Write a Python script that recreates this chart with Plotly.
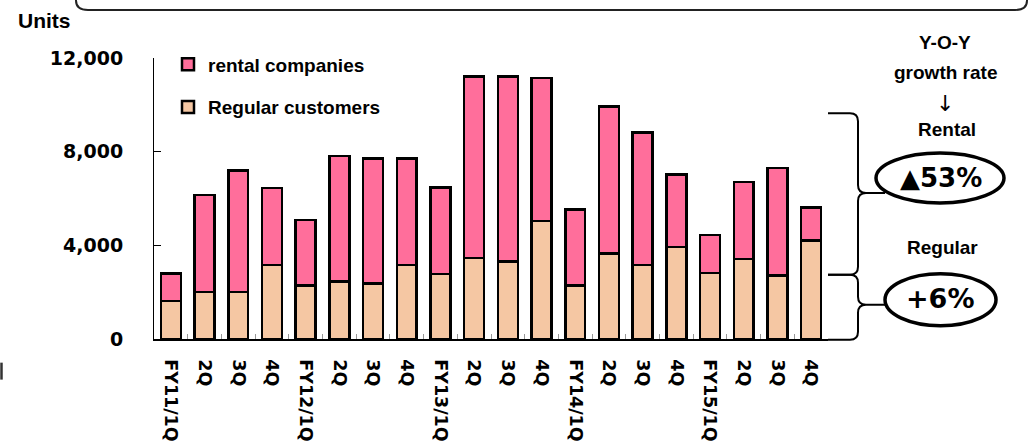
import plotly.graph_objects as go

categories = ["FY11/1Q", "2Q", "3Q", "4Q", "FY12/1Q", "2Q ", "3Q ", "4Q ",
              "FY13/1Q", "2Q  ", "3Q  ", "4Q  ", "FY14/1Q", "2Q   ", "3Q   ", "4Q   ",
              "FY15/1Q", "2Q    ", "3Q    ", "4Q    "]
regular = [1630, 2000, 2000, 3150, 2280, 2450, 2380, 3150,
           2770, 3450, 3300, 5050, 2280, 3660, 3160, 3930,
           2810, 3420, 2710, 4200]
total = [2800, 6140, 7200, 6450, 5080, 7810, 7700, 7700,
         6470, 11200, 11200, 11150, 5530, 9930, 8820, 7020,
         4440, 6710, 7300, 5620]
rental = [t - r for t, r in zip(total, regular)]
y_ticks = [0, 4000, 8000, 12000]

W, H = 1030, 446
L, R, T, B = 154, 828, 57.7, 339.3


def px(x):
    return (x - L) / (R - L)


def py(y):
    return (B - y) / (B - T)


fig = go.Figure()
fig.add_trace(go.Bar(
    x=categories, y=regular, name="Regular customers",
    marker=dict(color="#F5C7A3", line=dict(color="black", width=2.5)),
    legendgroup="b", legendrank=2,
))
fig.add_trace(go.Bar(
    x=categories, y=rental, name="rental companies",
    marker=dict(color="#FF6E9B", line=dict(color="black", width=2.5)),
    legendgroup="a", legendrank=1,
))

shapes = []
# top rounded box (bottom edge visible)
shapes.append(dict(type="path", xref="paper", yref="paper",
                   path=f"M {px(76)},{py(-5)} L {px(76)},{py(0)} Q {px(76)},{py(9.5)} {px(88)},{py(9.5)} "
                        f"L {px(1015)},{py(9.5)} Q {px(1027)},{py(9.5)} {px(1027)},{py(0)} L {px(1027)},{py(-5)}",
                   line=dict(color="#222", width=2)))
# left small mark
shapes.append(dict(type="line", xref="paper", yref="paper",
                   x0=px(1.5), x1=px(1.5), y0=py(363), y1=py(380),
                   line=dict(color="#333", width=2.5)))


def brace(x0, xv, xt, yt, ym, yb):
    r = 8
    return (f"M {px(x0)},{py(yt)} L {px(xv - r)},{py(yt)} Q {px(xv)},{py(yt)} {px(xv)},{py(yt + r)} "
            f"L {px(xv)},{py(ym - r)} Q {px(xv)},{py(ym)} {px(xv + r)},{py(ym)} L {px(xt)},{py(ym)} "
            f"M {px(xt)},{py(ym)} L {px(xv + r)},{py(ym)} Q {px(xv)},{py(ym)} {px(xv)},{py(ym + r)} "
            f"L {px(xv)},{py(yb - r)} Q {px(xv)},{py(yb)} {px(xv - r)},{py(yb)} L {px(x0)},{py(yb)}")


shapes.append(dict(type="path", xref="paper", yref="paper",
                   path=brace(828, 858, 885, 113, 193, 275), line=dict(color="black", width=2)))
shapes.append(dict(type="path", xref="paper", yref="paper",
                   path=brace(828, 858, 887, 275, 305, 340), line=dict(color="black", width=2)))
# ellipses
shapes.append(dict(type="circle", xref="paper", yref="paper",
                   x0=px(876), x1=px(1004), y0=py(153), y1=py(203),
                   line=dict(color="black", width=3.5)))
shapes.append(dict(type="circle", xref="paper", yref="paper",
                   x0=px(885), x1=px(996), y0=py(274), y1=py(326),
                   line=dict(color="black", width=3.5)))

SANS = "Liberation Sans, Arial, sans-serif"
VERD = "DejaVu Sans, Verdana, sans-serif"
ann = []


def text(t, x, y, size, family=SANS, xanchor="center", weight="bold"):
    ann.append(dict(text=t, x=px(x), y=py(y), xref="paper", yref="paper",
                    showarrow=False, xanchor=xanchor, yanchor="middle",
                    font=dict(family=family, size=size, color="black", weight=weight)))


text("Units", 16, 20, 21, xanchor="left")
text("Y-O-Y", 945, 42, 19)
text("growth rate", 945, 72, 19)
text("↓", 945, 103, 22, family=VERD, weight="normal")
text("Rental", 947, 129, 19)
text("▲53%", 941, 178, 26, family=VERD)
text("Regular", 942, 248, 19)
text("+6%", 940, 299, 27, family=VERD)

fig.update_layout(
    width=W, height=H,
    margin=dict(l=L, r=W - R, t=T, b=H - B),
    barmode="stack", bargap=0.41,
    plot_bgcolor="white", paper_bgcolor="white",
    showlegend=True,
    legend=dict(x=px(168), y=py(45), xanchor="left", yanchor="top",
                font=dict(family=SANS, size=19, color="black", weight="bold"),
                tracegroupgap=15, bgcolor="rgba(0,0,0,0)",
                itemclick=False),
    shapes=shapes, annotations=ann,
    xaxis=dict(type="category", tickangle=90, showline=True, linecolor="black", linewidth=1.5,
               ticks="inside", tickson="boundaries", ticklen=5, tickcolor="#999",
               tickfont=dict(family=VERD, size=17.5, color="black", weight="bold"),
               ticklabelstandoff=15, automargin=False,
               showgrid=False, fixedrange=True),
    yaxis=dict(range=[0, 12000], tickvals=y_ticks, tickformat=",", showline=True,
               linecolor="black", linewidth=1, ticks="inside", ticklen=7, tickcolor="black",
               tickfont=dict(family=VERD, size=19, color="black", weight="bold"), ticklabelstandoff=26,
               automargin=False,
               showgrid=False, zeroline=False, fixedrange=True),
)

fig.write_html("out.html")
